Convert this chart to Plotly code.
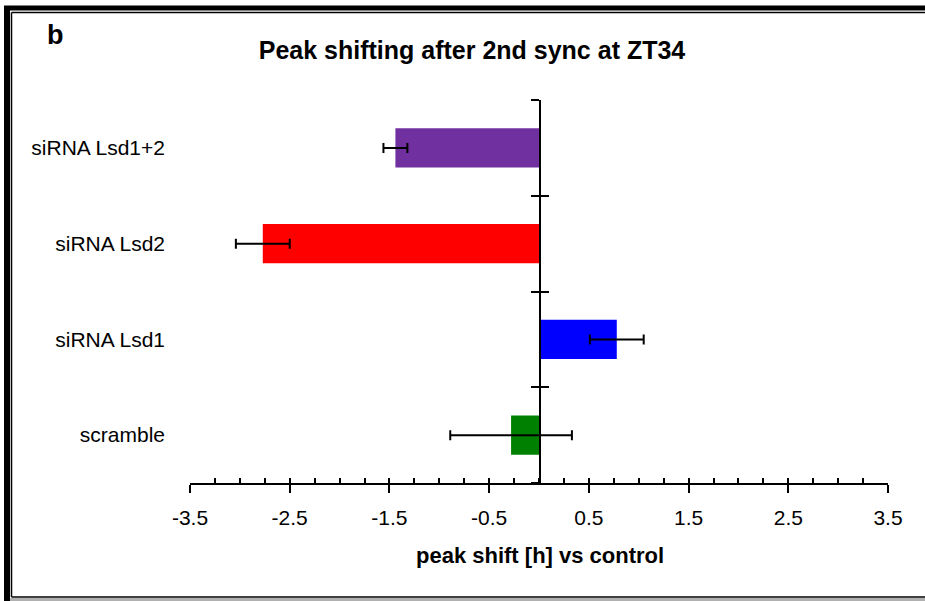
import plotly.graph_objects as go

categories = ["scramble", "siRNA Lsd1", "siRNA Lsd2", "siRNA Lsd1+2"]
values = [-0.28, 0.78, -2.77, -1.44]
errors = [0.61, 0.27, 0.27, 0.12]
colors = ["#008000", "#0000FF", "#FF0000", "#7030A0"]
xtick_vals = [-3.5, -2.5, -1.5, -0.5, 0.5, 1.5, 2.5, 3.5]
xtick_text = ["-3.5", "-2.5", "-1.5", "-0.5", "0.5", "1.5", "2.5", "3.5"]
title_text = "Peak shifting after 2nd sync at ZT34"
xlabel = "peak shift [h] vs control"
panel = "b"

W, H = 925, 601
L, R, T, B = 190, 37, 100, 118
pw, ph = W - L - R, H - T - B

def px(x):
    return (x - L) / pw

def py(y):
    return (H - B - y) / ph

FONT = "Liberation Sans, Arial, sans-serif"

fig = go.Figure()
fig.add_trace(go.Bar(
    y=list(range(len(categories))), x=values, orientation="h",
    marker=dict(color=colors, line=dict(width=0)),
    width=0.41,
    error_x=dict(type="data", array=errors, visible=True, color="black",
                 thickness=2, width=5),
    showlegend=False,
))

axis_common = dict(range=[-0.5, 3.5], fixedrange=True)
fig.update_layout(
    width=W, height=H,
    margin=dict(l=L, r=R, t=T, b=B),
    paper_bgcolor="white", plot_bgcolor="white",
    font=dict(family=FONT, color="black"),
    title=dict(text=f"<b>{title_text}</b>", x=472 / W, xref="container",
               y=1 - 50 / H, yref="container", xanchor="center", yanchor="middle",
               font=dict(size=25, family=FONT, color="black")),
    xaxis=dict(range=[-3.5, 3.5], tickvals=xtick_vals, ticktext=xtick_text,
               ticks="outside", ticklen=8, tickwidth=2, tickcolor="black",
               showline=True, linewidth=2, linecolor="black",
               showgrid=False, zeroline=False, ticklabelstandoff=7,
               tickfont=dict(size=21, family=FONT, color="black"),
               fixedrange=True),
    xaxis2=dict(range=[-3.5, 3.5], overlaying="x", anchor="y",
                tickmode="linear", tick0=-3.5, dtick=0.25,
                ticks="inside", ticklen=5, tickwidth=2, tickcolor="black",
                showticklabels=False, showline=False, showgrid=False,
                zeroline=False, side="bottom", fixedrange=True),
    yaxis=dict(tickvals=list(range(len(categories))), ticktext=categories,
               showline=False, showgrid=False, zeroline=False, ticks="",
               ticklabelstandoff=24,
               tickfont=dict(size=21, family=FONT, color="black"), **axis_common),
    yaxis2=dict(overlaying="y", anchor="free", position=px(540),
                tickvals=[-0.5, 0.5, 1.5, 2.5, 3.5], ticks="outside", ticklen=8,
                tickwidth=2, tickcolor="black", showticklabels=False,
                showline=True, linewidth=2, linecolor="black",
                showgrid=False, zeroline=False, **axis_common),
    yaxis3=dict(overlaying="y", anchor="free", position=px(540),
                tickvals=[-0.5, 0.5, 1.5, 2.5, 3.5], ticks="inside", ticklen=8,
                tickwidth=2, tickcolor="black", showticklabels=False,
                showline=False, showgrid=False, zeroline=False, **axis_common),
)

# invisible helper traces so overlay axes are drawn
fig.add_trace(go.Scatter(x=[None], y=[None], xaxis="x2", yaxis="y", showlegend=False, hoverinfo="skip"))
fig.add_trace(go.Scatter(x=[None], y=[None], xaxis="x", yaxis="y2", showlegend=False, hoverinfo="skip"))
fig.add_trace(go.Scatter(x=[None], y=[None], xaxis="x", yaxis="y3", showlegend=False, hoverinfo="skip"))

fig.add_annotation(text=f"<b>{xlabel}</b>", xref="paper", yref="paper",
                   x=px(540), y=py(555), xanchor="center", yanchor="middle",
                   showarrow=False,
                   font=dict(size=22, family=FONT, color="black"))
fig.add_annotation(text=f"<b>{panel}</b>", xref="paper", yref="paper",
                   x=px(55), y=py(35), xanchor="center", yanchor="middle",
                   showarrow=False,
                   font=dict(size=27, family=FONT, color="black"))

# picture frame
shapes = [
    dict(type="line", x0=px(7), x1=px(7), y0=py(6), y1=py(601), line=dict(color="black", width=6)),
    dict(type="line", x0=px(4), x1=px(925), y0=py(8), y1=py(8), line=dict(color="black", width=5)),
    dict(type="line", x0=px(11.5), x1=px(11.5), y0=py(12.5), y1=py(597), line=dict(color="black", width=1.5)),
    dict(type="line", x0=px(11.5), x1=px(925), y0=py(12.5), y1=py(12.5), line=dict(color="black", width=1.5)),
    dict(type="line", x0=px(11.5), x1=px(925), y0=py(597), y1=py(597), line=dict(color="black", width=1.5)),
    dict(type="line", x0=px(10), x1=px(925), y0=py(599.5), y1=py(599.5), line=dict(color="#b0b0b0", width=3)),
]
for s in shapes:
    s.update(xref="paper", yref="paper", layer="above")
    fig.add_shape(**s)

fig.write_html("out.html")
